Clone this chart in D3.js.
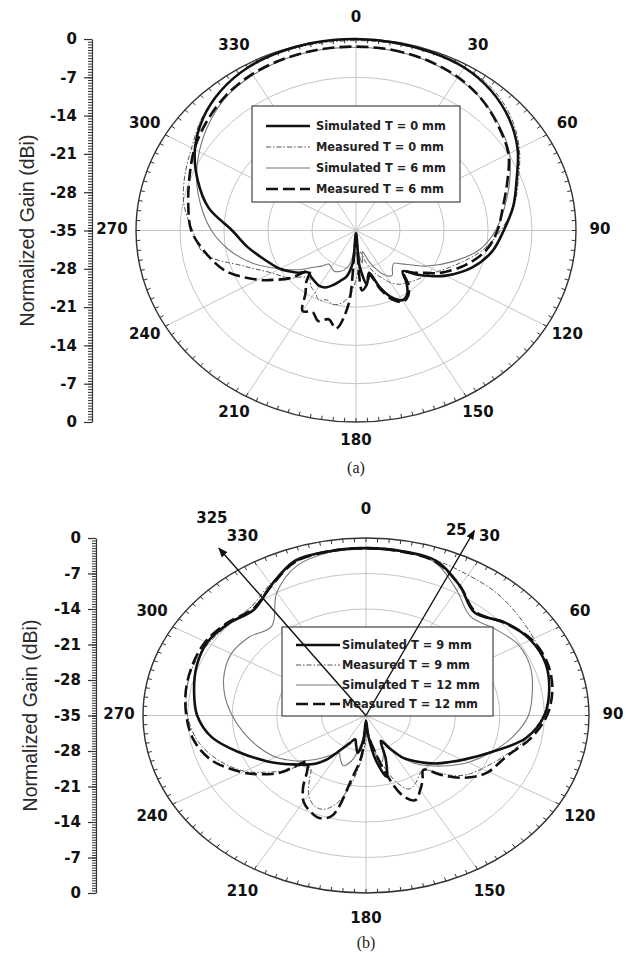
<!DOCTYPE html>
<html>
<head>
<meta charset="utf-8">
<script src="https://cdn.jsdelivr.net/npm/d3@7"></script>
<style>
  body { margin: 0; background: #fff; }
  svg { display: block; }
</style>
</head>
<body>
<svg id="fig" width="626" height="957"></svg>
<script>
// Sample angles (degrees, clockwise from 0 at the top) shared by every trace
const ANGLES = [0,10,20,30,40,50,60,70,80,90,100,110,120,
  125,130,135,140,145,150,155,160,165,170,175,180,185,190,195,200,205,210,215,220,225,230,235,240,
  250,260,270,280,290,300,310,320,330,340,350];

// Angular tick labels and radial gain ticks
const ANGLE_TICKS = [0,30,60,90,120,150,180,210,240,270,300,330];
const GAIN_TICKS = [0,-7,-14,-21,-28,-35];
const RING_LEVELS = [-28,-21,-14,-7];

// (a) normalized gain, dB
const simT0 = [0,-0.1,-0.3,-0.6,-1.6,-3.2,-5.3,-7.8,-9.6,-11.5,-13,-15.3,-18.5,
  -20.5,-22.5,-24.5,-22.5,-20.8,-20.3,-21.5,-24,-27,-25,-28.5,-34.5,-29,-26.5,-25.5,-24.4,-23.5,-23.3,-23.6,-23.9,-24.2,-23,-22,-21,
  -19.5,-17.5,-15.3,-11.2,-8.2,-5.4,-3.2,-1.6,-0.6,-0.2,0];
const measT0 = [-0.3,-0.3,-0.4,-0.5,-1.2,-2.8,-5,-7.5,-9.5,-12,-14.5,-17.5,-20,
  -21,-21.5,-22,-22.5,-23,-24,-25.5,-27,-29,-31,-29,-26,-23,-21.5,-21,-21.5,-21,-22,-22.5,-23.5,-23,-21.5,-20.5,-19.5,
  -16,-10.5,-9,-7.2,-6,-4.8,-3,-1.5,-0.6,-0.3,-0.3];
const simT6 = [-1.5,-1.6,-2,-2.8,-3.8,-5.2,-6.8,-9,-11,-12.8,-15,-18.5,-22,
  -24,-25.5,-26.5,-26,-25,-25.5,-27,-29,-31,-29,-31,-34,-31,-28.5,-27.5,-27,-26.8,-27.2,-27.5,-26.5,-25.5,-24,-22.5,-21,
  -17.5,-14.5,-12,-10,-8,-6.2,-4.5,-3,-2.2,-1.7,-1.5];
const measT6 = [-1.4,-1.5,-1.9,-2.6,-3.8,-5.4,-7,-9.4,-11.3,-12.5,-14,-16.5,-19.5,
  -21.5,-23,-24.3,-22,-20.5,-20,-21,-23.5,-26.5,-25,-24,-33,-21.5,-16.8,-18.2,-17.4,-18.6,-18,-21,-22.7,-24.6,-21.5,-19.3,-17,
  -13.1,-10.8,-8.8,-7.9,-6.8,-5.3,-4,-2.8,-2,-1.6,-1.4];

// (b) normalized gain, dB
const simT9 = [-2,-2.1,-2.6,-5.5,-8.5,-6.5,-5.2,-5,-5.8,-7,-9.5,-14,-17.5,
  -19,-20.3,-21.8,-23.3,-24.8,-27.5,-29.5,-26,-22.5,-26,-31,-34,-30,-27.5,-29,-30,-29,-27.3,-24.5,-22.6,-21.3,-20,-18.5,-17,
  -13.8,-10.4,-8.5,-7.6,-6.7,-6.2,-6.8,-7.7,-5.3,-2.5,-2.1];
const measT9 = [-2.2,-2.3,-2.5,-3,-3.3,-4,-4.6,-5,-5.8,-7.2,-9.3,-11.8,-14,
  -15,-16.5,-19,-21,-20.5,-19.5,-19,-21,-25,-29,-31.5,-30,-26,-21,-17,-15.3,-15.5,-17,-19.5,-21.5,-21,-18,-15.5,-13,
  -10,-8,-7,-6.4,-6.2,-6.5,-7,-7,-5,-2.8,-2.3];
const simT12 = [-2,-2.2,-3,-6.5,-9.5,-8.5,-7.3,-7.5,-8.5,-9.5,-11.5,-14,-16.5,
  -18,-19.5,-21,-22.5,-24.5,-27,-29,-27,-25.5,-28,-31,-34,-31,-28,-25.5,-24.5,-25.5,-26.5,-25.5,-24,-22.5,-21,-19.8,-18.6,
  -17,-15.5,-14,-12.5,-11.3,-10.6,-11,-12,-7,-3.5,-2.3];
const measT12 = [-2,-2.2,-2.8,-5.5,-8.3,-6.6,-5,-4.7,-5.3,-6.6,-8.8,-11.5,-12.8,
  -14,-15.9,-18.5,-21,-19.5,-18,-16.6,-18.2,-23.5,-28.5,-31,-33,-27,-22.5,-14.6,-13.5,-14.2,-15.4,-17.8,-20.6,-22,-17.5,-14.8,-12.6,
  -9.2,-7.5,-6.8,-6.3,-6,-5.9,-6.6,-7.5,-5.4,-2.7,-2.1];

// Beam direction markers in (b), degrees
const beamAngles = [325, 25];

const STYLE = {
  simThick:    { color: '#111', width: 2.6, dash: null },
  measDashDot: { color: '#555', width: 1.0, dash: '5,2,1.5,2' },
  simThin:     { color: '#777', width: 1.1, dash: null },
  measDashed:  { color: '#111', width: 2.6, dash: '12,5' }
};

const GRID = '#c4c4c4';
const AXIS = '#333';
const BOLD = "'DejaVu Sans', Verdana, sans-serif";
const svg = d3.select('#fig');

function drawPanel(cfg) {
  const g = svg.append('g');
  const rad = d3.scaleLinear().domain([-35, 0]).range([0, 1]).clamp(true);
  const ang = d3.scaleLinear().domain([0, 360]).range([0, 2 * Math.PI]);
  const px = (a, f) => cfg.cx + f * cfg.rx * Math.sin(ang(a));
  const py = (a, f) => cfg.cy - f * cfg.ry * Math.cos(ang(a));

  // grid rings and spokes
  g.selectAll('ellipse.ring').data(RING_LEVELS).join('ellipse')
    .attr('class', 'ring')
    .attr('cx', cfg.cx).attr('cy', cfg.cy)
    .attr('rx', d => rad(d) * cfg.rx).attr('ry', d => rad(d) * cfg.ry)
    .attr('fill', 'none').attr('stroke', GRID).attr('stroke-width', 1);
  g.selectAll('line.spoke').data(ANGLE_TICKS).join('line')
    .attr('class', 'spoke')
    .attr('x1', cfg.cx).attr('y1', cfg.cy)
    .attr('x2', d => px(d, 1)).attr('y2', d => py(d, 1))
    .attr('stroke', GRID).attr('stroke-width', 1);

  // outer boundary with inward minor ticks
  g.append('ellipse')
    .attr('cx', cfg.cx).attr('cy', cfg.cy).attr('rx', cfg.rx).attr('ry', cfg.ry)
    .attr('fill', 'none').attr('stroke', AXIS).attr('stroke-width', 1.4);
  g.selectAll('line.atick').data(d3.range(0, 360, 3)).join('line')
    .attr('class', 'atick')
    .attr('x1', d => cfg.cx + cfg.rx * Math.sin(ang(d)))
    .attr('y1', d => cfg.cy - cfg.ry * Math.cos(ang(d)))
    .attr('x2', d => cfg.cx + (cfg.rx - 4) * Math.sin(ang(d)))
    .attr('y2', d => cfg.cy - (cfg.ry - 4) * Math.cos(ang(d)))
    .attr('stroke', AXIS).attr('stroke-width', 1);

  // angle labels
  g.selectAll('text.alab').data(ANGLE_TICKS).join('text')
    .attr('class', 'alab')
    .attr('x', d => cfg.cx + (cfg.rx + cfg.gapX) * Math.sin(ang(d)))
    .attr('y', d => cfg.cy - (cfg.ry + cfg.gapY) * Math.cos(ang(d)) - 2)
    .attr('text-anchor', 'middle').attr('dominant-baseline', 'central')
    .attr('font-family', BOLD).attr('font-weight', 'bold').attr('font-size', 15)
    .attr('fill', '#111')
    .text(d => d);

  // left gain axis, mirrored about the centre level
  const yTop = d3.scaleLinear().domain([-35, 0]).range([cfg.cy, cfg.cy - cfg.ry]);
  const yBot = d3.scaleLinear().domain([-35, 0]).range([cfg.cy, cfg.cy + cfg.ry]);
  const minor = d3.range(-35, 0.001, 0.5);
  [[yTop, GAIN_TICKS], [yBot, GAIN_TICKS.filter(d => d !== -35)]].forEach(([sc, vals]) => {
    g.append('g').attr('transform', `translate(${cfg.axisX},0)`)
      .call(d3.axisLeft(sc).tickValues(minor).tickSize(4).tickSizeOuter(0).tickFormat(''))
      .call(s => s.selectAll('line').attr('stroke', AXIS))
      .call(s => s.select('.domain').attr('stroke', AXIS).attr('stroke-width', 1.2));
    g.append('g').attr('transform', `translate(${cfg.axisX},0)`)
      .call(d3.axisLeft(sc).tickValues(vals).tickSize(8).tickSizeOuter(0).tickPadding(7)
        .tickFormat(d => String(d)))
      .call(s => s.select('.domain').remove())
      .call(s => s.selectAll('line').attr('stroke', AXIS).attr('stroke-width', 1.2))
      .call(s => s.selectAll('text')
        .attr('font-family', BOLD).attr('font-weight', 'bold').attr('font-size', 15)
        .attr('fill', '#111'));
  });
  g.append('text')
    .attr('transform', `translate(${cfg.titleX},${cfg.cy}) rotate(-90)`)
    .attr('text-anchor', 'middle').attr('dominant-baseline', 'central')
    .attr('font-family', "'Liberation Sans', Arial, sans-serif").attr('font-size', 19.5)
    .attr('fill', '#2a2a2a')
    .text('Normalized Gain (dBi)');

  // pattern traces
  const line = d3.line()
    .x(d => px(d[0], rad(d[1])))
    .y(d => py(d[0], rad(d[1])))
    .curve(d3.curveCatmullRomClosed.alpha(0.5));
  cfg.series.forEach(s => {
    const st = STYLE[s.style];
    g.append('path')
      .datum(ANGLES.map((a, i) => [a, s.values[i]]))
      .attr('d', line)
      .attr('fill', 'none')
      .attr('stroke', st.color).attr('stroke-width', st.width)
      .attr('stroke-dasharray', st.dash)
      .attr('stroke-linejoin', 'round');
  });

  // legend
  const L = cfg.legend;
  const lg = g.append('g').attr('transform', `translate(${L.x},${L.y})`);
  lg.append('rect').attr('width', L.w).attr('height', L.h)
    .attr('fill', '#fff').attr('stroke', '#444').attr('stroke-width', 1.2);
  const order = ['simThick', 'measDashDot', 'simThin', 'measDashed'];
  order.forEach((key, i) => {
    const s = cfg.series.find(d => d.style === key);
    const st = STYLE[key];
    lg.append('line')
      .attr('x1', L.lineX[0]).attr('x2', L.lineX[1])
      .attr('y1', L.rowY[i]).attr('y2', L.rowY[i])
      .attr('stroke', st.color).attr('stroke-width', st.width)
      .attr('stroke-dasharray', st.dash);
    lg.append('text')
      .attr('x', L.textX).attr('y', L.rowY[i])
      .attr('dominant-baseline', 'central')
      .attr('font-family', BOLD).attr('font-weight', 'bold').attr('font-size', 11.4)
      .attr('fill', '#222')
      .text(s.name);
  });

  // caption
  g.append('text')
    .attr('x', cfg.cx).attr('y', cfg.caption.y)
    .attr('text-anchor', 'middle').attr('dominant-baseline', 'central')
    .attr('font-family', "'Liberation Serif', 'Times New Roman', serif").attr('font-size', 16)
    .attr('fill', '#222')
    .text(cfg.caption.text);

  return { g, px, py };
}

drawPanel({
  cx: 356, cy: 230.5, rx: 220, ry: 191.5,
  axisX: 92, titleX: 27, gapX: 24, gapY: 20,
  legend: { x: 252, y: 106, w: 208, h: 96, rowY: [20, 41, 62, 83], lineX: [14, 58], textX: 64 },
  caption: { y: 467, text: '(a)' },
  series: [
    { name: 'Measured T = 0 mm', style: 'measDashDot', values: measT0 },
    { name: 'Simulated T = 6 mm', style: 'simThin', values: simT6 },
    { name: 'Measured T = 6 mm', style: 'measDashed', values: measT6 },
    { name: 'Simulated T = 0 mm', style: 'simThick', values: simT0 }
  ]
});

const pb = drawPanel({
  cx: 366, cy: 715.5, rx: 223, ry: 177.5,
  axisX: 96, titleX: 30, gapX: 24, gapY: 27,
  legend: { x: 282, y: 627, w: 211, h: 89, rowY: [18, 38, 58, 77], lineX: [14, 58], textX: 60 },
  caption: { y: 942, text: '(b)' },
  series: [
    { name: 'Measured T = 9 mm', style: 'measDashDot', values: measT9 },
    { name: 'Simulated T = 12 mm', style: 'simThin', values: simT12 },
    { name: 'Measured T = 12 mm', style: 'measDashed', values: measT12 },
    { name: 'Simulated T = 9 mm', style: 'simThick', values: simT9 }
  ]
});

// beam direction arrows in (b)
svg.append('defs').append('marker')
  .attr('id', 'arrowHead').attr('viewBox', '0 0 10 10')
  .attr('refX', 9).attr('refY', 5)
  .attr('markerWidth', 7).attr('markerHeight', 7)
  .attr('orient', 'auto')
  .append('path').attr('d', 'M0,1 L10,5 L0,9 Z').attr('fill', '#111');
const tipF = 1.15;
const beamLabelOffset = [[-7, -30], [-18, 0]];
beamAngles.forEach((a, i) => {
  const x2 = pb.px(a, tipF), y2 = pb.py(a, tipF);
  pb.g.append('line')
    .attr('x1', 366).attr('y1', 715.5).attr('x2', x2).attr('y2', y2)
    .attr('stroke', '#111').attr('stroke-width', 1.4)
    .attr('marker-end', 'url(#arrowHead)');
  pb.g.append('text')
    .attr('x', x2 + beamLabelOffset[i][0]).attr('y', y2 + beamLabelOffset[i][1])
    .attr('text-anchor', 'middle').attr('dominant-baseline', 'central')
    .attr('font-family', BOLD).attr('font-weight', 'bold').attr('font-size', 15)
    .attr('fill', '#111')
    .text(a);
});
</script>
</body>
</html>
